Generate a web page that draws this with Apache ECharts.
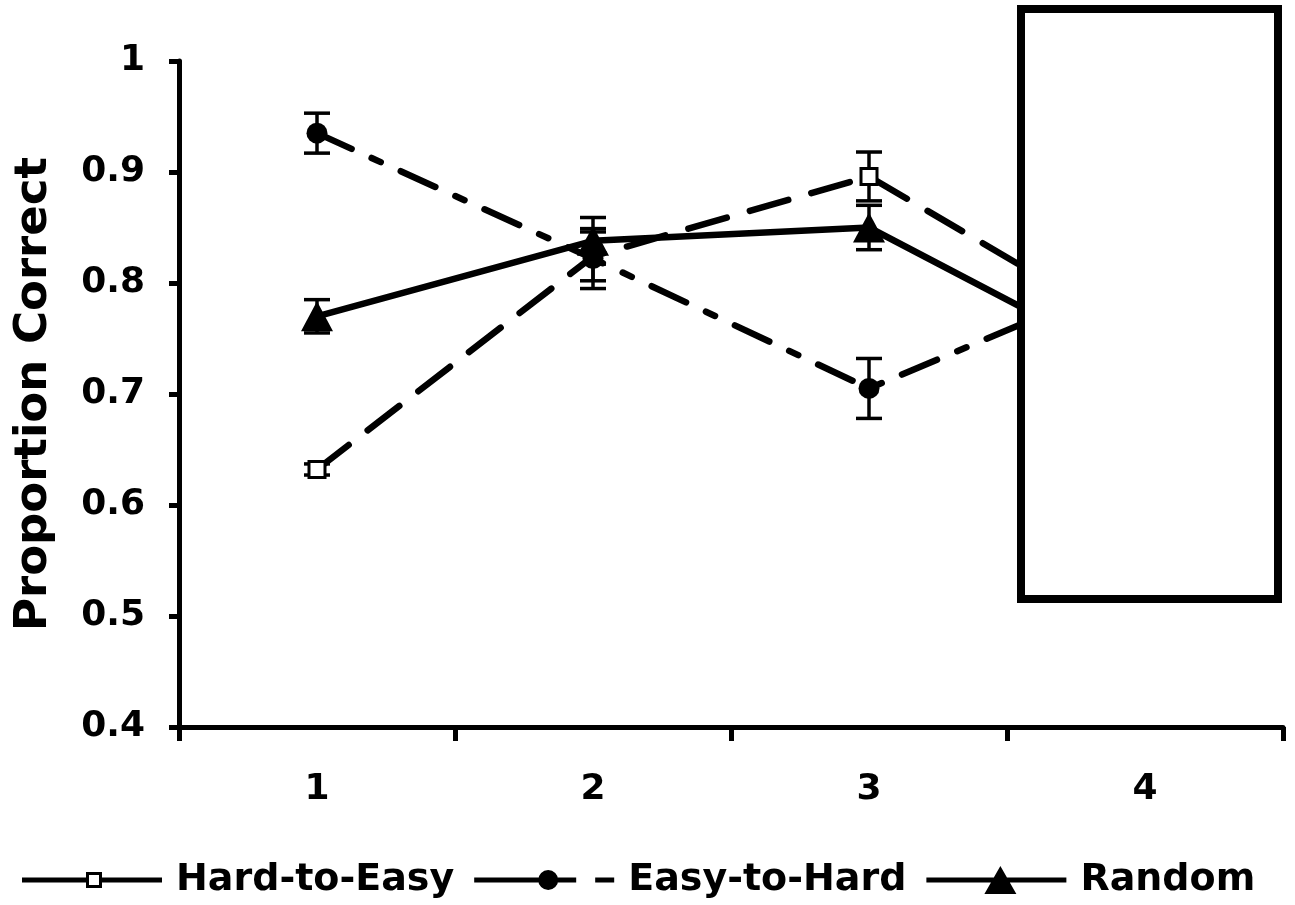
<!DOCTYPE html>
<html>
<head>
<meta charset="utf-8">
<script src="https://cdn.jsdelivr.net/npm/echarts@6/dist/echarts.min.js"></script>
<style>
  html, body { margin: 0; padding: 0; background: #fff; }
  #chart { width: 1295px; height: 905px; }
</style>
</head>
<body>
<div id="chart"></div>
<script>
// Blocks of the task (x axis) and proportion correct per ordering condition
const blocks = ['1', '2', '3', '4'];
const yTicks = [0.4, 0.5, 0.6, 0.7, 0.8, 0.9, 1];

const hardToEasy = [0.632, 0.824, 0.896, 0.750];
const hardToEasyErr = [0.005, 0.022, 0.022, 0.020];

const easyToHard = [0.935, 0.822, 0.705, 0.810];
const easyToHardErr = [0.018, 0.027, 0.027, 0.020];

const random = [0.770, 0.838, 0.850, 0.720];
const randomErr = [0.015, 0.021, 0.020, 0.020];

const FONT = '"DejaVu Sans", Verdana, sans-serif';

// Legend keys: a line with the series marker, 140 x 28 boxes.
// Tiny corner specks pin every path's bounding box to the full key size.
const BOX = 'M0 0 L0.01 0 L0 0.01 Z M140 28 L139.99 28 L140 27.99 Z ';
const keyHardToEasy = 'path://' + BOX +
  'M0 11.5 L64 11.5 L64 16.5 L0 16.5 Z ' +
  'M80 11.5 L140 11.5 L140 16.5 L80 16.5 Z ' +
  'M64 6 L80 6 L80 22 L64 22 Z M67 9 L67 19 L77 19 L77 9 Z';
const keyEasyToHard = 'path://' + BOX +
  'M0 11.5 L102 11.5 L102 16.5 L0 16.5 Z ' +
  'M121 11.5 L140 11.5 L140 16.5 L121 16.5 Z ' +
  'M64 14 A10 10 0 1 1 84 14 A10 10 0 1 1 64 14 Z';
const keyRandom = 'path://' +
  'M0 11.5 L140 11.5 L140 16.5 L0 16.5 Z ' +
  'M74 0 L90 28 L58 28 Z';

// Vertical error bar with caps, drawn through the axis scales
function errorBarSeries(values, errs, z) {
  const data = values.map((v, i) => [i, v - errs[i], v + errs[i]]);
  return {
    type: 'custom',
    z: z,
    silent: true,
    legendHoverLink: false,
    renderItem: function (params, api) {
      const lo = api.coord([api.value(0), api.value(1)]);
      const hi = api.coord([api.value(0), api.value(2)]);
      const half = 13;
      const style = { stroke: '#000', lineWidth: 3.5, fill: null };
      return {
        type: 'group',
        children: [
          { type: 'line', shape: { x1: lo[0], y1: lo[1], x2: hi[0], y2: hi[1] }, style: style },
          { type: 'line', shape: { x1: hi[0] - half, y1: hi[1], x2: hi[0] + half, y2: hi[1] }, style: style },
          { type: 'line', shape: { x1: lo[0] - half, y1: lo[1], x2: lo[0] + half, y2: lo[1] }, style: style }
        ]
      };
    },
    encode: { x: 0, y: [1, 2] },
    data: data
  };
}

const chart = echarts.init(document.getElementById('chart'), null, { renderer: 'canvas' });

const keyStyle = { color: '#000', borderWidth: 0 };

chart.setOption({
  animation: false,
  backgroundColor: '#fff',
  textStyle: { fontFamily: FONT },
  grid: { left: 179, right: 12, top: 61, bottom: 178, containLabel: false },
  legend: {
    top: 856,
    left: 17,
    itemWidth: 140,
    itemHeight: 28,
    itemGap: 20,
    symbolKeepAspect: false,
    textStyle: { fontFamily: FONT, fontWeight: 'bold', fontSize: 38, color: '#000', padding: [0, 0, 0, 9] },
    data: [
      { name: 'Hard-to-Easy', icon: keyHardToEasy, itemStyle: keyStyle },
      { name: 'Easy-to-Hard', icon: keyEasyToHard, itemStyle: keyStyle },
      { name: 'Random', icon: keyRandom, itemStyle: keyStyle }
    ]
  },
  xAxis: {
    type: 'category',
    data: blocks,
    boundaryGap: true,
    axisLine: { lineStyle: { color: '#000', width: 5 } },
    axisTick: { show: true, inside: false, length: 14, interval: 0, lineStyle: { color: '#000', width: 5 } },
    axisLabel: { color: '#000', fontFamily: FONT, fontWeight: 'bold', fontSize: 36, margin: 45 },
    splitLine: { show: false }
  },
  yAxis: {
    type: 'value',
    min: yTicks[0],
    max: yTicks[yTicks.length - 1],
    interval: 0.1,
    name: 'Proportion Correct',
    nameLocation: 'middle',
    nameGap: 122,
    nameTextStyle: { color: '#000', fontFamily: FONT, fontWeight: 'bold', fontSize: 45 },
    axisLine: { show: true, lineStyle: { color: '#000', width: 5 } },
    axisTick: { show: true, inside: false, length: 10, lineStyle: { color: '#000', width: 5 } },
    axisLabel: {
      color: '#000', fontFamily: FONT, fontWeight: 'bold', fontSize: 36, margin: 34,
      formatter: v => String(Math.round(v * 10) / 10)
    },
    splitLine: { show: false }
  },
  series: [
    errorBarSeries(hardToEasy, hardToEasyErr, 2),
    errorBarSeries(easyToHard, easyToHardErr, 2),
    errorBarSeries(random, randomErr, 2),
    {
      name: 'Hard-to-Easy',
      type: 'line',
      z: 3,
      data: hardToEasy,
      symbol: 'rect',
      symbolSize: 16,
      itemStyle: { color: '#fff', borderColor: '#000', borderWidth: 3 },
      lineStyle: { color: '#000', width: 6.5, type: [40, 24], cap: 'round' }
    },
    {
      name: 'Easy-to-Hard',
      type: 'line',
      z: 3,
      data: easyToHard,
      symbol: 'circle',
      symbolSize: 21,
      itemStyle: { color: '#000', borderColor: '#000', borderWidth: 0 },
      lineStyle: { color: '#000', width: 6.5, type: [38, 22, 10, 22], cap: 'round' }
    },
    {
      name: 'Random',
      type: 'line',
      z: 4,
      data: random,
      symbol: 'triangle',
      symbolSize: [32, 30],
      itemStyle: { color: '#000', borderColor: '#000', borderWidth: 0 },
      lineStyle: { color: '#000', width: 6.5, type: 'solid', cap: 'round' }
    }
  ],
  graphic: [
    {
      type: 'rect',
      z: 100,
      silent: true,
      shape: { x: 1021, y: 9, width: 257, height: 590 },
      style: { fill: '#fff', stroke: '#000', lineWidth: 8 }
    }
  ]
});
</script>
</body>
</html>
